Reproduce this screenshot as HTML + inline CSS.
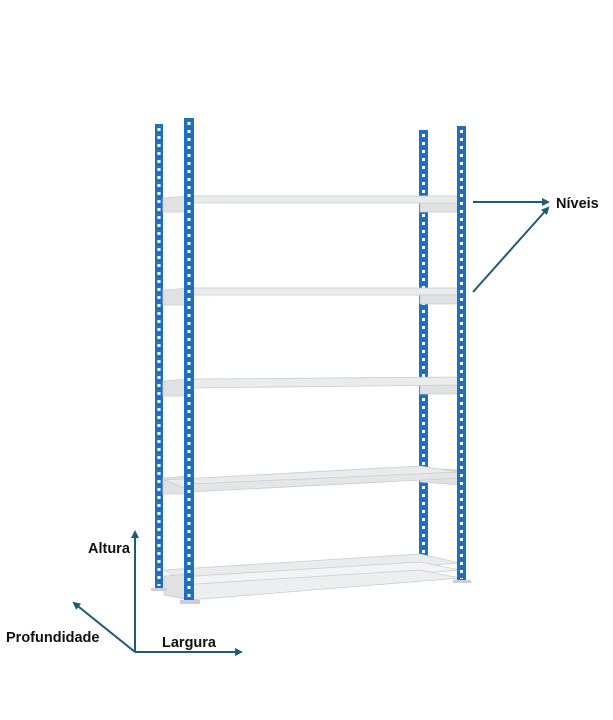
<!DOCTYPE html>
<html><head><meta charset="utf-8"><style>
html,body{margin:0;padding:0;background:#fff;}
svg{display:block}
text{font-family:"Liberation Sans",sans-serif;font-weight:bold;font-size:14.5px;fill:#111}
</style></head><body>
<svg width="613" height="720" viewBox="0 0 613 720" xmlns="http://www.w3.org/2000/svg">
<defs>
<marker id="ah" markerWidth="8" markerHeight="8" refX="6" refY="4" orient="auto" markerUnits="userSpaceOnUse">
<path d="M0,0 L8,4 L0,8 Z" fill="#1f5b75"/>
</marker>
</defs>
<!-- rear uprights -->
<rect x="155" y="124" width="8" height="466" fill="#1e6fbf"/>
<line x1="159" y1="128" x2="159" y2="586" stroke="#fff" stroke-width="3" stroke-dasharray="3 5"/>
<rect x="419" y="130" width="9" height="448" fill="#1e6fbf"/>
<line x1="423.5" y1="134" x2="423.5" y2="574" stroke="#fff" stroke-width="3" stroke-dasharray="3 5"/>
<!-- shelves -->
<g fill="#e9ebed" stroke="#c9cdd1" stroke-width="0.8">
<path d="M163,198 L190,196 L190,212 L163,212 Z" fill="#dfe1e3"/>
<path d="M420,198 L458,198 L458,212 L420,212 Z" fill="#dfe1e3"/>
<rect x="190" y="196" width="268" height="7"/>
<path d="M163,290 L190,288 L190,305 L163,305 Z" fill="#dfe1e3"/>
<path d="M420,290 L458,290 L458,304 L420,304 Z" fill="#dfe1e3"/>
<rect x="190" y="288" width="268" height="7"/>
<path d="M163,381 L190,379 L190,396 L163,396 Z" fill="#dfe1e3"/>
<path d="M420,379 L460,379 L460,394 L420,394 Z" fill="#dfe1e3"/>
<path d="M190,379 L460,377 L460,385 L190,388 Z"/>
<path d="M163,478 L190,476 L190,494 L163,494 Z" fill="#dfe1e3"/>
<path d="M420,468 L460,470 L460,485 L420,482 Z" fill="#dfe1e3"/>
<path d="M164,480 L420,466 L460,472 L190,490 Z"/>
<path d="M190,484 L460,472 L460,478 L190,492 Z" fill="#e3e5e7"/>
<path d="M164,570 L420,554 L460,563 L190,585 Z"/>
<path d="M164,578 L420,562 L460,570 L190,592 Z" fill="#f2f3f4"/>
<path d="M164,586 L420,570 L460,578 L190,600 Z" fill="#eceef0"/>
<path d="M164,576 L190,574 L190,600 L164,595 Z" fill="#dfe1e3"/>
</g>
<!-- front uprights -->
<rect x="184" y="118" width="10" height="484" fill="#1e6fbf"/>
<line x1="189" y1="122" x2="189" y2="598" stroke="#fff" stroke-width="3" stroke-dasharray="3 5"/>
<rect x="457" y="126" width="9" height="457" fill="#1e6fbf"/>
<line x1="461.5" y1="130" x2="461.5" y2="579" stroke="#fff" stroke-width="3" stroke-dasharray="3 5"/>
<!-- feet -->
<rect x="151" y="588" width="16" height="3" fill="#ccd"/>
<rect x="180" y="600" width="20" height="4" fill="#ccd"/>
<rect x="453" y="580" width="18" height="3" fill="#ccd"/>
<!-- arrows -->
<g stroke="#1f5b75" stroke-width="2" fill="none" marker-end="url(#ah)">
<line x1="473" y1="202" x2="548" y2="202"/>
<line x1="473" y1="292" x2="548" y2="208"/>
<line x1="135" y1="652" x2="135" y2="532"/>
<line x1="135" y1="652" x2="241" y2="652"/>
<line x1="135" y1="652" x2="74" y2="603"/>
</g>
<text x="556" y="208">Níveis</text>
<text x="88" y="553">Altura</text>
<text x="6" y="642">Profundidade</text>
<text x="162" y="647">Largura</text>
</svg>
</body></html>
